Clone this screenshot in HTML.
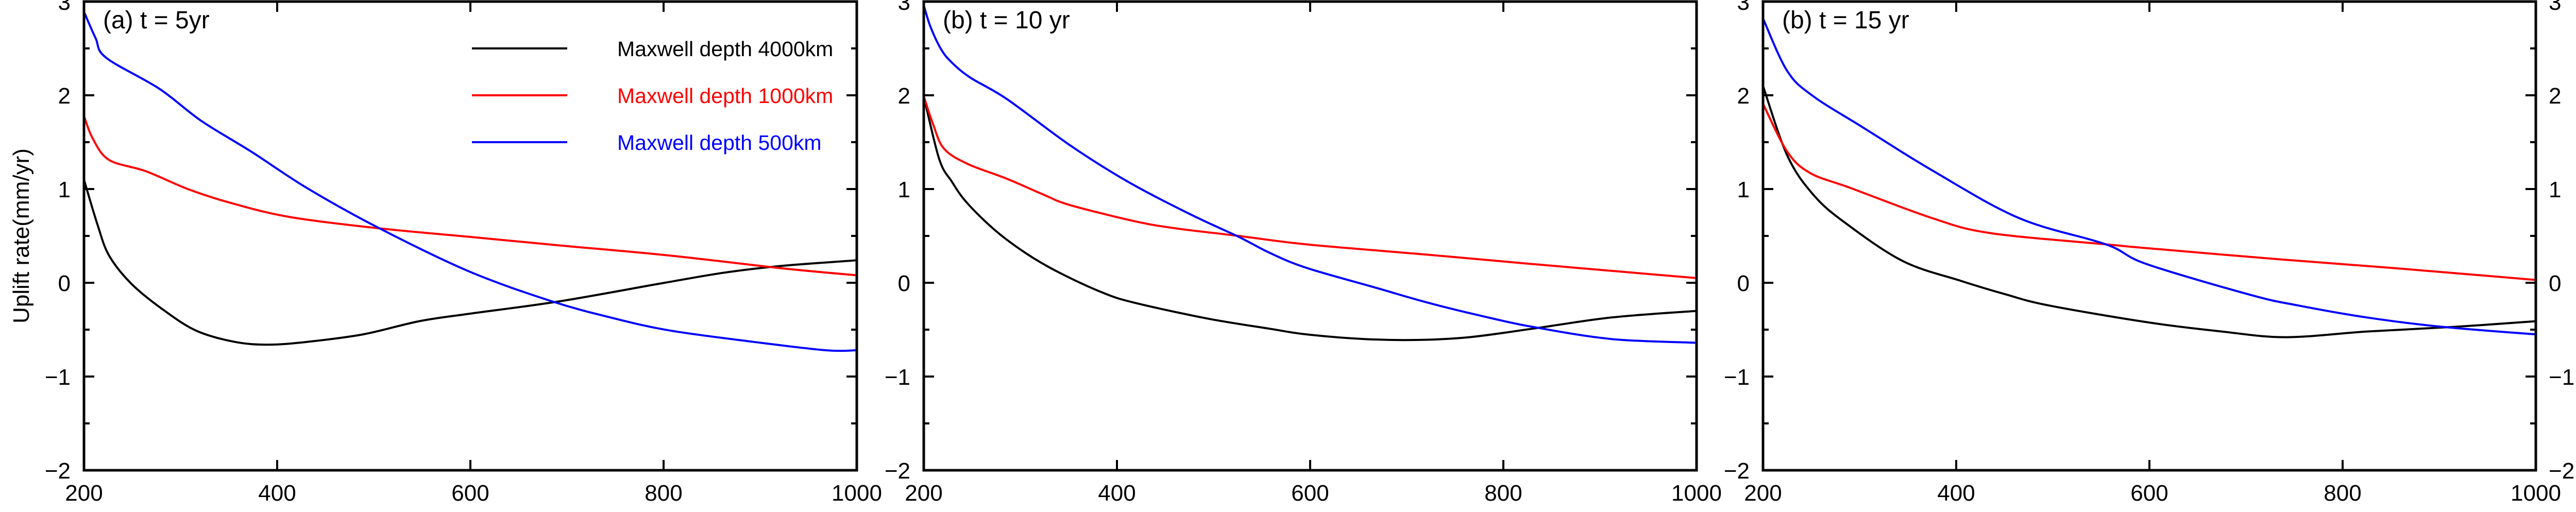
<!DOCTYPE html>
<html><head><meta charset="utf-8"><style>
html,body{margin:0;padding:0;background:#fff;}
svg{display:block;font-family:"Liberation Sans",Arial,sans-serif;}
</style></head><body>
<svg id="fig" width="5064" height="994" viewBox="0 0 5064 994" xmlns="http://www.w3.org/2000/svg"></svg>
<script>
const xTicks=[200,400,600,800,1000];
const yTicks=[-2,-1,0,1,2,3];
const panelTitles=["(a) t = 5yr","(b) t = 10 yr","(b) t = 15 yr"];
const seriesNames=["Maxwell depth 4000km","Maxwell depth 1000km","Maxwell depth 500km"];
const seriesColors=["#000","#f00","#00f"];
// Panel a
const aBlackX=[200,214,226,249,281,316,356,391,431,489,547,599,691,801,864,922,1000];
const aBlackY=[1.10,0.62,0.29,-0.01,-0.28,-0.51,-0.63,-0.66,-0.63,-0.55,-0.41,-0.33,-0.20,0.0,0.11,0.18,0.24];
const aRedX=[200,209,226,264,310,356,414,506,599,691,807,922,1000];
const aRedY=[1.78,1.54,1.31,1.19,0.99,0.84,0.70,0.58,0.49,0.40,0.29,0.155,0.08];
const aBlueX=[200,212,223,278,321,373,431,506,599,685,749,807,893,968,1000];
const aBlueY=[2.89,2.61,2.40,2.07,1.73,1.40,1.01,0.58,0.12,-0.20,-0.38,-0.51,-0.63,-0.72,-0.72];
// Panel b
const bBlackX=[200,216,229,245,275,308,340,384,417,493,558,596,656,710,765,830,912,1000];
const bBlackY=[1.99,1.32,1.08,0.85,0.55,0.30,0.11,-0.10,-0.21,-0.38,-0.49,-0.55,-0.60,-0.61,-0.58,-0.49,-0.37,-0.30];
const bRedX=[200,210,221,245,286,324,351,417,461,526,596,721,830,1000];
const bRedY=[1.99,1.68,1.43,1.27,1.11,0.94,0.83,0.66,0.58,0.50,0.41,0.30,0.20,0.05];
const bBlueX=[200,207,218,229,248,286,351,411,476,526,558,596,667,721,776,830,912,1000];
const bBlueY=[2.96,2.73,2.49,2.35,2.19,1.96,1.47,1.08,0.73,0.49,0.32,0.16,-0.05,-0.21,-0.35,-0.47,-0.60,-0.64];
// Panel c
const cBlackX=[200,225,252,285,345,405,450,495,597,675,741,825,916,1000];
const cBlackY=[2.10,1.36,0.94,0.64,0.23,0.02,-0.12,-0.24,-0.42,-0.52,-0.58,-0.52,-0.47,-0.41];
const cRedX=[200,225,249,291,375,435,555,597,735,855,1000];
const cRedY=[1.91,1.40,1.17,1.01,0.69,0.53,0.41,0.37,0.25,0.155,0.03];
const cBlueX=[200,225,252,303,375,465,555,597,705,753,825,903,1000];
const cBlueY=[2.82,2.26,1.99,1.66,1.20,0.69,0.41,0.20,-0.13,-0.24,-0.37,-0.47,-0.55];

const NS="http://www.w3.org/2000/svg";
const svg=document.getElementById('fig');
function mk(tag,attrs,parent){const e=document.createElementNS(NS,tag);for(const k in attrs)e.setAttribute(k,attrs[k]);(parent||svg).appendChild(e);return e;}
function smooth(pts){
  let d='M'+pts[0][0].toFixed(1)+','+pts[0][1].toFixed(1);
  for(let i=0;i<pts.length-1;i++){
    const p0=pts[i-1]||pts[i],p1=pts[i],p2=pts[i+1],p3=pts[i+2]||p2;
    const c1=[p1[0]+(p2[0]-p0[0])/6,p1[1]+(p2[1]-p0[1])/6];
    const c2=[p2[0]-(p3[0]-p1[0])/6,p2[1]-(p3[1]-p1[1])/6];
    d+='C'+c1.map(v=>v.toFixed(1))+' '+c2.map(v=>v.toFixed(1))+' '+p2.map(v=>v.toFixed(1));
  }
  return d;
}
const panelLefts=[163,1793,3422];
const PW=1500, TOP=3, BOT=913;
const panelData=[
 [[aBlackX,aBlackY],[aRedX,aRedY],[aBlueX,aBlueY]],
 [[bBlackX,bBlackY],[bRedX,bRedY],[bBlueX,bBlueY]],
 [[cBlackX,cBlackY],[cRedX,cRedY],[cBlueX,cBlueY]]
];
panelLefts.forEach((L,pi)=>{
  const g=mk('g',{});
  
  
  const xs=v=>L+(v-200)/800*PW;
  const ys=v=>TOP+(3-v)/5*(BOT-TOP);
  panelData[pi].forEach((s,si)=>{
    const pts=s[0].map((x,i)=>[xs(x),ys(s[1][i])]);
    const p=mk('path',{d:smooth(pts),fill:'none',stroke:seriesColors[si],'stroke-width':4,'stroke-linejoin':'round'},g);
    
    
  });
  const fr=mk('rect',{x:L,y:TOP,width:PW,height:BOT-TOP,fill:'none',stroke:'#000','stroke-width':5},g);
  
  
  for(let v=-2;v<=3;v+=0.5){
    const major=Number.isInteger(v);const len=major?20:11;const y=ys(v);
    mk('line',{x1:L,x2:L+len,y1:y,y2:y,stroke:'#000','stroke-width':4},g);
    mk('line',{x1:L+PW,x2:L+PW-len,y1:y,y2:y,stroke:'#000','stroke-width':4},g);
  }
  yTicks.forEach(v=>{
    const t=mk('text',{x:L-26,y:ys(v)+16,'text-anchor':'end','font-size':44},g);
    t.textContent=v<0?'\u2212'+(-v):String(v);
    
    
  });
  xTicks.forEach(v=>{
    const x=xs(v);
    mk('line',{x1:x,x2:x,y1:BOT,y2:BOT-20,stroke:'#000','stroke-width':4},g);
    mk('line',{x1:x,x2:x,y1:TOP,y2:TOP+20,stroke:'#000','stroke-width':4},g);
    const t=mk('text',{x:x,y:972,'text-anchor':'middle','font-size':44},g);
    t.textContent=String(v);
    
    
  });
  const tt=mk('text',{x:L+37,y:55,'font-size':48},g);
  tt.textContent=panelTitles[pi];
  
  
});
yTicks.forEach(v=>{
  const t=mk('text',{x:4947,y:TOP+(3-v)/5*(BOT-TOP)+16,'font-size':44});
  t.textContent=v<0?'\u2212'+(-v):String(v);
  
  
});
const legY=[94,185,276];
seriesNames.forEach((n,i)=>{
  const l=mk('line',{x1:916,x2:1101,y1:legY[i],y2:legY[i],stroke:seriesColors[i],'stroke-width':4});
  
  
  const t=mk('text',{x:1198,y:legY[i]+15,'font-size':41,fill:seriesColors[i]});
  t.textContent=n;
  
  
});
const yl=mk('text',{x:0,y:0,'font-size':44,'text-anchor':'middle',transform:'translate(56,458) rotate(-90)'});
yl.textContent='Uplift rate(mm/yr)';


const yr=mk('text',{x:0,y:0,'font-size':50,'text-anchor':'middle',transform:'translate(5064,458) rotate(-90)'});
yr.textContent='Uplift rate (mm/yr)';


</script>
</body></html>
